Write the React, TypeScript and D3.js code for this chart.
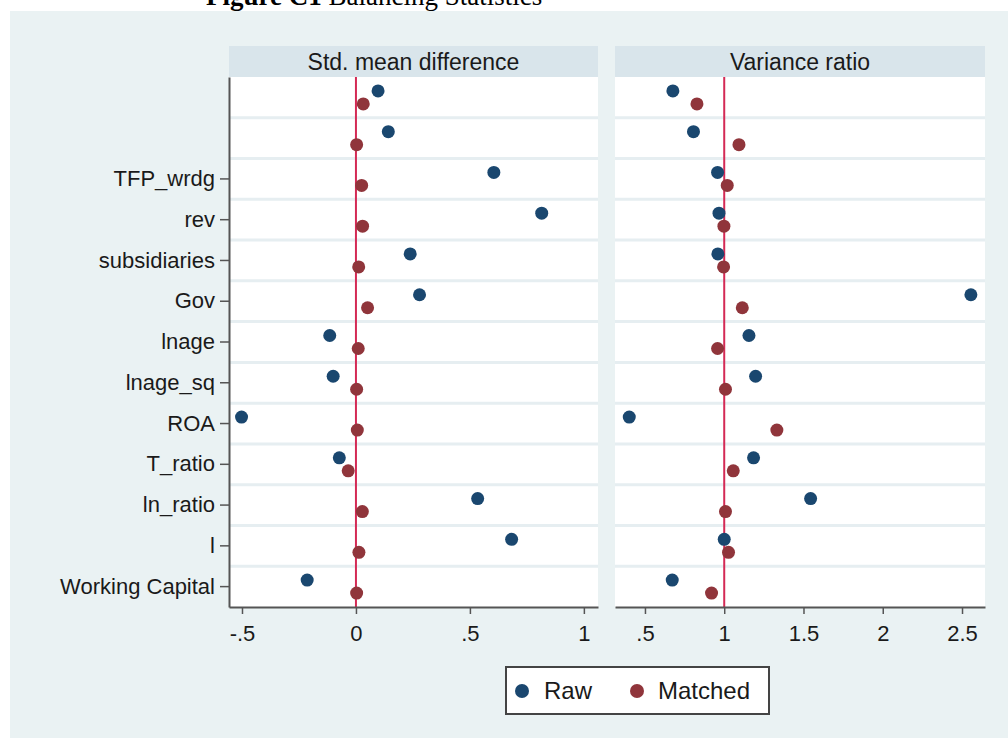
import React, { useEffect, useRef } from "react";
import * as d3 from "d3";

const variableLabels = ["", "", "TFP_wrdg", "rev", "subsidiaries", "Gov", "lnage", "lnage_sq", "ROA", "T_ratio", "ln_ratio", "l", "Working Capital"];
const rawStdDiff = [0.097, 0.142, 0.605, 0.815, 0.238, 0.279, -0.115, -0.1, -0.502, -0.073, 0.534, 0.683, -0.214];
const matchedStdDiff = [0.032, 0.003, 0.025, 0.029, 0.012, 0.051, 0.01, 0.003, 0.006, -0.034, 0.028, 0.013, 0.003];
const rawVarRatio = [0.676, 0.806, 0.958, 0.967, 0.96, 2.556, 1.156, 1.198, 0.401, 1.185, 1.545, 1.0, 0.672];
const matchedVarRatio = [0.828, 1.093, 1.019, 0.998, 0.996, 1.114, 0.958, 1.008, 1.332, 1.057, 1.008, 1.027, 0.92];
const stdTicks = [-0.5, 0, 0.5, 1];
const varTicks = [0.5, 1, 1.5, 2, 2.5];
const panelTitles = ["Std. mean difference", "Variance ratio"];
const seriesNames = ["Raw", "Matched"];

const W = 1008;
const H = 738;
const RAW_COLOR = "#1a476f";
const MATCHED_COLOR = "#90353b";
const REF_COLOR = "#d42a55";
const BG = "#eaf2f3";
const HEADER = "#d9e5eb";
const AXIS = "#555555";
const FONT = "'Liberation Sans', Arial, sans-serif";

const fmt = (d: number) => String(d).replace(/^(-?)0\./, "$1.");

export default function App() {
  const ref = useRef<SVGSVGElement | null>(null);

  useEffect(() => {
    const svg = d3.select(ref.current);
    svg.selectAll("*").remove();

    svg.append("rect").attr("x", 0).attr("y", 0).attr("width", W).attr("height", H).attr("fill", "#ffffff");
    svg.append("rect").attr("x", 10).attr("y", 11).attr("width", W - 10).attr("height", H - 11).attr("fill", BG);

    const title = svg.append("text").attr("x", 206).attr("y", 4.5)
      .attr("font-family", "'Liberation Serif', 'Times New Roman', serif").attr("font-size", 27).attr("fill", "#000");
    title.append("tspan").attr("font-weight", "bold").text("Figure C1");
    title.append("tspan").text(" Balancing Statistics");

    const top = 77;
    const bottom = 607;
    const idx = d3.range(variableLabels.length);
    const y = d3.scaleBand<number>().domain(idx).range([top, bottom]).padding(0);
    const off = 6.5;

    const panels = [
      { x0: 229, x1: 598, domain: [-0.557, 1.062], ticks: stdTicks, raw: rawStdDiff, matched: matchedStdDiff, refVal: 0, title: panelTitles[0], yAxis: true },
      { x0: 615, x1: 985, domain: [0.311, 2.645], ticks: varTicks, raw: rawVarRatio, matched: matchedVarRatio, refVal: 1, title: panelTitles[1], yAxis: false },
    ];

    panels.forEach((p) => {
      const x = d3.scaleLinear().domain(p.domain).range([p.x0, p.x1]);
      const g = svg.append("g");
      // header strip
      g.append("rect").attr("x", p.x0).attr("y", 46).attr("width", p.x1 - p.x0).attr("height", 31).attr("fill", HEADER);
      g.append("text").attr("x", (p.x0 + p.x1) / 2).attr("y", 70).attr("text-anchor", "middle")
        .attr("font-family", FONT).attr("font-size", 23).attr("fill", "#1a1a1a").text(p.title);
      // plot region
      g.append("rect").attr("x", p.x0).attr("y", top).attr("width", p.x1 - p.x0).attr("height", bottom - top).attr("fill", "#ffffff");
      // grid lines between rows
      g.selectAll("line.grid").data(idx.slice(1)).enter().append("line")
        .attr("x1", p.x0).attr("x2", p.x1)
        .attr("y1", (d) => y(d)!).attr("y2", (d) => y(d)!)
        .attr("stroke", "#e6eef1").attr("stroke-width", 3);
      // reference line
      g.append("line").attr("x1", x(p.refVal)).attr("x2", x(p.refVal)).attr("y1", top).attr("y2", bottom)
        .attr("stroke", REF_COLOR).attr("stroke-width", 2);
      // points
      g.selectAll("circle.raw").data(p.raw).enter().append("circle")
        .attr("cx", (d) => x(d)).attr("cy", (_d, i) => y(i)! + y.bandwidth() / 2 - off)
        .attr("r", 6.5).attr("fill", RAW_COLOR);
      g.selectAll("circle.matched").data(p.matched).enter().append("circle")
        .attr("cx", (d) => x(d)).attr("cy", (_d, i) => y(i)! + y.bandwidth() / 2 + off)
        .attr("r", 6.5).attr("fill", MATCHED_COLOR);
      // x axis
      const xa = g.append("g").attr("transform", `translate(0,${bottom})`)
        .call(d3.axisBottom(x).tickValues(p.ticks).tickFormat((d) => fmt(d as number)).tickSize(7).tickSizeOuter(0).tickPadding(11));
      xa.select(".domain").attr("stroke", AXIS).attr("stroke-width", 2);
      xa.selectAll(".tick line").attr("stroke", AXIS).attr("stroke-width", 1.5);
      xa.selectAll(".tick text").attr("font-family", FONT).attr("font-size", 22).attr("fill", "#1a1a1a");
      if (p.yAxis) {
        const ya = g.append("g").attr("transform", `translate(${p.x0},0)`)
          .call(d3.axisLeft(y).tickValues(idx.filter((i) => variableLabels[i] !== ""))
            .tickFormat((i) => variableLabels[i as number]).tickSize(9).tickSizeOuter(0).tickPadding(5));
        ya.select(".domain").attr("stroke", AXIS).attr("stroke-width", 2);
        ya.selectAll(".tick line").attr("stroke", AXIS).attr("stroke-width", 1.5);
        ya.selectAll(".tick text").attr("font-family", FONT).attr("font-size", 22).attr("fill", "#1a1a1a");
      }
    });

    // legend
    const lg = svg.append("g");
    lg.append("rect").attr("x", 506).attr("y", 667).attr("width", 263).attr("height", 47)
      .attr("fill", "#ffffff").attr("stroke", "#444444").attr("stroke-width", 2);
    const items = [
      { name: seriesNames[0], color: RAW_COLOR, mx: 522, tx: 544 },
      { name: seriesNames[1], color: MATCHED_COLOR, mx: 637, tx: 658 },
    ];
    items.forEach((it) => {
      lg.append("circle").attr("cx", it.mx).attr("cy", 691).attr("r", 7).attr("fill", it.color);
      lg.append("text").attr("x", it.tx).attr("y", 699).attr("font-family", FONT).attr("font-size", 24)
        .attr("fill", "#1a1a1a").text(it.name);
    });
  }, []);

  return (
    <div style={{ position: "fixed", left: 0, top: 0 }}>
      <svg ref={ref} width={W} height={H} style={{ display: "block" }} />
    </div>
  );
}
